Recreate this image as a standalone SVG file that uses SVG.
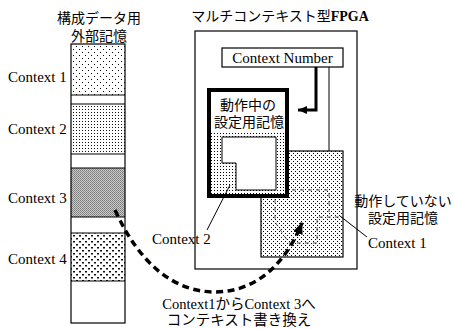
<svg xmlns="http://www.w3.org/2000/svg" width="454" height="329" viewBox="0 0 454 329">
<style>
.lat{font-family:"Liberation Serif","Noto Sans CJK JP",serif;font-size:15px;fill:#000}
.jp{font-family:"Noto Sans CJK JP","Liberation Sans",sans-serif;font-size:14px;fill:#000}
.mix{font-family:"Liberation Serif","Noto Sans CJK JP",serif;font-size:14.5px;fill:#000}
.box{fill:none;stroke:#000;stroke-width:1.2}
.thin{fill:none;stroke:#000;stroke-width:1}
</style>
<defs>
<pattern id="pC1" width="6" height="6" patternUnits="userSpaceOnUse"><rect width="6" height="6" fill="#fff"/><rect x="1" y="1" width="1" height="1" fill="#000"/><rect x="4" y="4" width="1" height="1" fill="#000"/></pattern>
<pattern id="pC2" width="3" height="3" patternUnits="userSpaceOnUse"><rect width="3" height="3" fill="#fff"/><rect x="1" y="1" width="1" height="1" fill="#111"/></pattern>
<pattern id="pC3" width="2" height="2" patternUnits="userSpaceOnUse"><rect width="2" height="2" fill="#cdcdcd"/><rect x="0" y="0" width="1" height="1" fill="#777"/><rect x="1" y="1" width="1" height="1" fill="#888"/></pattern>
<pattern id="pC4" width="6" height="6" patternUnits="userSpaceOnUse"><rect width="6" height="6" fill="#fff"/><rect x="1" y="1" width="2" height="1.5" fill="#111"/><rect x="4" y="4" width="2" height="1.5" fill="#111"/></pattern>
<pattern id="pA" width="3" height="3" patternUnits="userSpaceOnUse"><rect width="3" height="3" fill="#fff"/><rect x="1" y="1" width="1" height="1" fill="#000"/></pattern>
<pattern id="pB" width="4" height="4" patternUnits="userSpaceOnUse"><rect width="4" height="4" fill="#fff"/><rect x="1" y="1" width="1" height="1" fill="#000"/><rect x="3" y="3" width="1" height="1" fill="#000"/></pattern>
<marker id="bigHead" viewBox="0 0 12 10" refX="11" refY="5" markerWidth="12" markerHeight="10" markerUnits="userSpaceOnUse" orient="auto"><path d="M0,0 L12,5 L0,10 z" fill="#000"/></marker>
<marker id="head" viewBox="0 0 9 8" refX="9" refY="4" markerWidth="9" markerHeight="8" markerUnits="userSpaceOnUse" orient="auto"><path d="M0,0 L9,4 L0,8 z" fill="#000"/></marker>
</defs>
<rect width="454" height="329" fill="#fff"/>

<g id="external-memory">
<text class="jp" x="99" y="23" text-anchor="middle">構成データ用</text>
<text class="jp" x="99" y="41" text-anchor="middle">外部記憶</text>
<rect x="71" y="44" width="54" height="51" fill="url(#pC1)"/>
<rect x="71" y="104" width="54" height="50" fill="url(#pC2)"/>
<rect x="71" y="168" width="54" height="49" fill="url(#pC3)"/>
<rect x="71" y="233" width="54" height="48" fill="url(#pC4)"/>
<path class="box" d="M71,95 H125 M71,104 H125 M71,154 H125 M71,168 H125 M71,217 H125 M71,233 H125 M71,281 H125"/>
<rect class="box" x="71" y="44" width="54" height="279"/>
<text class="lat" x="8" y="82">Context 1</text>
<text class="lat" x="8" y="134">Context 2</text>
<text class="lat" x="8" y="203">Context 3</text>
<text class="lat" x="8" y="264">Context 4</text>
</g>

<g id="fpga">
<text class="jp" x="280" y="21" text-anchor="middle">マルチコンテキスト型<tspan style="font-family:'Liberation Serif',serif;font-weight:bold">FPGA</tspan></text>
<rect class="box" x="195" y="31" width="162" height="238"/>
</g>

<g id="context-number">
<rect class="box" x="222" y="48" width="121" height="19" fill="#fff"/>
<text class="lat" x="282.5" y="63" text-anchor="middle">Context Number</text>
</g>

<g id="inactive-memory">
<rect x="261" y="151" width="82" height="106" fill="url(#pB)" stroke="#000" stroke-width="1.2"/>
<path d="M275,199 V222 L289,243 H317 V217 H340 M292,190 H329 V212" fill="none" stroke="#333" stroke-width="0.8" stroke-dasharray="4 4"/>
</g>

<g id="active-memory">
<rect x="209" y="90" width="78" height="106" fill="#fff"/>
<rect x="211" y="131" width="74" height="63" fill="url(#pA)"/>
<path d="M222,137 H276 V190 H236 V163 H222 Z" fill="#fff" stroke="#000" stroke-width="1"/>
<rect x="209" y="90" width="78" height="106" fill="none" stroke="#000" stroke-width="4"/>
<text class="jp" x="248" y="110" text-anchor="middle">動作中の</text>
<text class="jp" x="249" y="127" text-anchor="middle">設定用記憶</text>
</g>

<g id="labels">
<text class="lat" x="152" y="244">Context 2</text>
<text class="lat" x="368" y="248">Context 1</text>
<text class="jp" x="403" y="206" text-anchor="middle">動作していない</text>
<text class="jp" x="403" y="223" text-anchor="middle">設定用記憶</text>
<text class="mix" x="239" y="309" text-anchor="middle">Context1からContext 3へ</text>
<text class="jp" x="239" y="325" text-anchor="middle" style="font-size:14.5px">コンテキスト書き換え</text>
</g>

<g id="connectors">
<path d="M329,67 V151" class="thin"/>
<path d="M316,67 V110 H298" fill="none" stroke="#000" stroke-width="3" marker-end="url(#head)"/>
<path d="M230,185 L207,230" class="thin" stroke-width="1.3"/>
<path d="M340,216 L367,237" class="thin" stroke-width="1.3"/>
<path d="M115,210 C140,265 175,292 215,292 C255,292 285,265 302,223" fill="none" stroke="#000" stroke-width="3.5" stroke-dasharray="7 4.5" marker-end="url(#bigHead)"/>
</g>
</svg>
